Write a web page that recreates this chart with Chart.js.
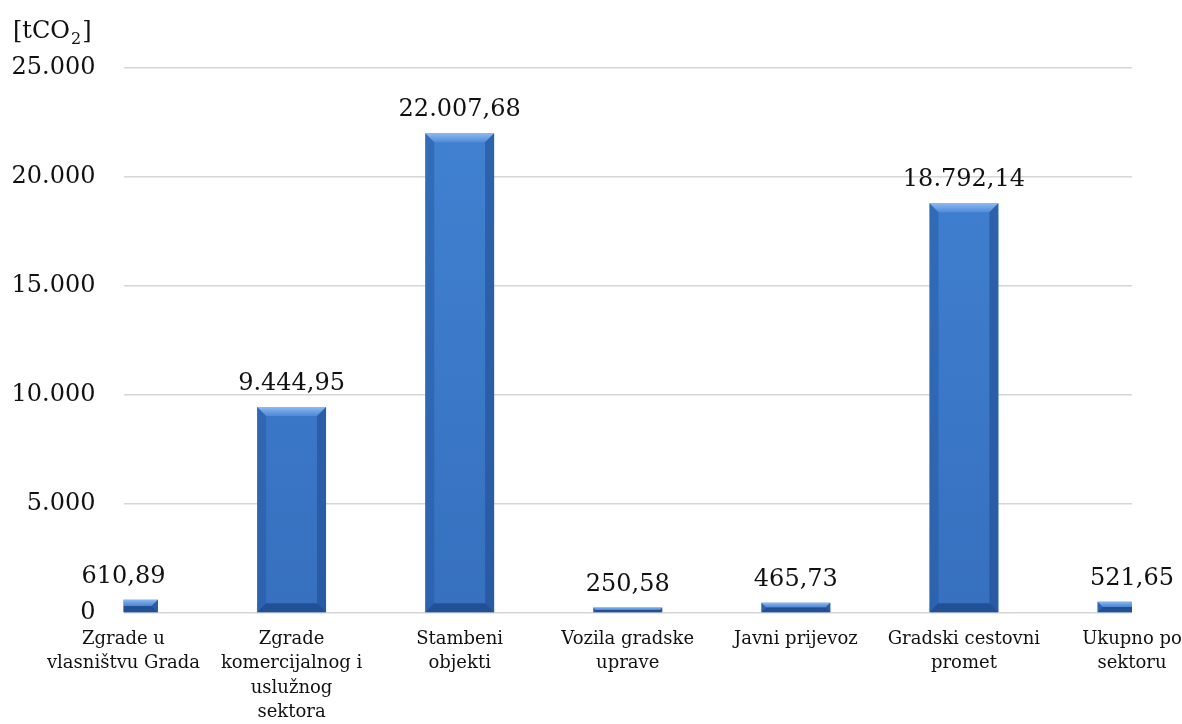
<!DOCTYPE html>
<html>
<head>
<meta charset="utf-8">
<title>Emisije CO2 po sektorima</title>
<script src="https://cdn.jsdelivr.net/npm/chart.js@4.4.1/dist/chart.umd.min.js"></script>
<style>
    html, body { margin: 0; padding: 0; background: #ffffff; }
    #box { width: 1182px; height: 724px; position: relative; }
</style>
</head>
<body>
<div id="box"><canvas id="grafico-emisije"></canvas></div>
<script>
// podaci
var sektori = [
    ['Zgrade u', 'vlasništvu Grada'],
    ['Zgrade', 'komercijalnog i', 'uslužnog', 'sektora'],
    ['Stambeni', 'objekti'],
    ['Vozila gradske', 'uprave'],
    ['Javni prijevoz'],
    ['Gradski cestovni', 'promet'],
    ['Ukupno po', 'sektoru']
];
var emisije = [610.89, 9444.95, 22007.68, 250.58, 465.73, 18792.14, 521.65];
var osY = { min: 0, max: 25000, korak: 5000 };
var jedinica = ['[tCO', '2', ']'];

var font = 'DejaVu Serif';

// 22007.68 -> "22.007,68"
function formatHr(value, decimals) {
    var parts = value.toFixed(decimals).split('.');
    var cijeli = parts[0].replace(/\B(?=(\d{3})+(?!\d))/g, '.');
    return decimals ? cijeli + ',' + parts[1] : cijeli;
}

function poly(ctx, pts, fill) {
    ctx.beginPath();
    ctx.moveTo(pts[0][0], pts[0][1]);
    for (var i = 1; i < pts.length; i++) {
        ctx.lineTo(pts[i][0], pts[i][1]);
    }
    ctx.closePath();
    ctx.fillStyle = fill;
    ctx.fill();
}

// bevel edges on every bar + value above it
var bevelPlugin = {
    id: 'bevel',
    afterDatasetsDraw: function (chart) {
        var ctx = chart.ctx;
        var area = chart.chartArea;
        var meta = chart.getDatasetMeta(0);
        ctx.save();
        ctx.beginPath();
        ctx.rect(area.left, area.top - 40, area.right - area.left, area.bottom - area.top + 40);
        ctx.clip();
        meta.data.forEach(function (bar) {
            var l = bar.x - bar.width / 2;
            var r = bar.x + bar.width / 2;
            var t = bar.y;
            var b = bar.base;
            var d = Math.min(9, (b - t) / 2);
            var top = ctx.createLinearGradient(0, t, 0, t + d);
            top.addColorStop(0, 'rgba(150,195,245,0.9)');
            top.addColorStop(1, 'rgba(95,150,225,0.6)');
            poly(ctx, [[l, t], [r, t], [r - d, t + d], [l + d, t + d]], top);
            poly(ctx, [[l, t], [l + d, t + d], [l + d, b - d], [l, b]], 'rgba(30,80,150,0.4)');
            poly(ctx, [[r, t], [r, b], [r - d, b - d], [r - d, t + d]], 'rgba(25,70,135,0.5)');
            poly(ctx, [[l, b], [l + d, b - d], [r - d, b - d], [r, b]], 'rgba(20,60,120,0.6)');
        });
        ctx.restore();

        ctx.save();
        ctx.fillStyle = '#111111';
        ctx.font = '24px "' + font + '"';
        ctx.textAlign = 'center';
        ctx.textBaseline = 'alphabetic';
        meta.data.forEach(function (bar, i) {
            ctx.fillText(formatHr(emisije[i], 2), bar.x, bar.y - 17);
        });
        ctx.restore();
    }
};

// jedinica iznad osi Y, s indeksom
var jedinicaPlugin = {
    id: 'jedinica',
    afterDraw: function (chart) {
        var ctx = chart.ctx;
        ctx.save();
        ctx.fillStyle = '#111111';
        ctx.textBaseline = 'alphabetic';
        ctx.textAlign = 'left';
        var x = 13;
        ctx.font = '24px "' + font + '"';
        ctx.fillText(jedinica[0], x, 38);
        x += ctx.measureText(jedinica[0]).width;
        ctx.font = '16px "' + font + '"';
        ctx.fillText(jedinica[1], x + 1, 44);
        x += ctx.measureText(jedinica[1]).width + 2;
        ctx.font = '24px "' + font + '"';
        ctx.fillText(jedinica[2], x, 38);
        ctx.restore();
    }
};

var ctx = document.getElementById('grafico-emisije').getContext('2d');

var chart = new Chart(ctx, {
    type: 'bar',
    data: {
        labels: sektori,
        datasets: [{
            data: emisije,
            backgroundColor: function (c) {
                var area = c.chart.chartArea;
                if (!area) {
                    return '#3d7acb';
                }
                var g = c.chart.ctx.createLinearGradient(0, area.top, 0, area.bottom);
                g.addColorStop(0, '#4283d3');
                g.addColorStop(1, '#3670bf');
                return g;
            },
            borderWidth: 0,
            categoryPercentage: 1,
            barPercentage: 0.41,
            clip: 0
        }]
    },
    options: {
        responsive: true,
        maintainAspectRatio: false,
        animation: false,
        layout: {
            padding: { left: 12, right: 50, top: 68, bottom: 0 }
        },
        plugins: {
            legend: { display: false },
            tooltip: { enabled: false }
        },
        scales: {
            x: {
                offset: false,
                grid: { display: false, drawTicks: false },
                border: { display: false },
                ticks: {
                    color: '#111111',
                    maxRotation: 0,
                    autoSkip: false,
                    padding: 14,
                    font: { family: font, size: 18, lineHeight: 1.36 }
                },
                afterFit: function (scale) {
                    scale.height = 111;
                    scale.paddingLeft = 0;
                    scale.paddingRight = 0;
                }
            },
            y: {
                min: osY.min,
                max: osY.max,
                grid: { color: '#d6d6d6', lineWidth: 1.5, drawTicks: false },
                border: { display: false },
                ticks: {
                    stepSize: osY.korak,
                    color: '#111111',
                    padding: 28,
                    font: { family: font, size: 24 },
                    callback: function (value) {
                        return formatHr(value, 0);
                    }
                },
                afterFit: function (scale) {
                    scale.width = 111.5;
                    scale.paddingTop = 0;
                    scale.paddingBottom = 0;
                }
            }
        }
    },
    plugins: [bevelPlugin, jedinicaPlugin]
});
</script>
</body>
</html>
